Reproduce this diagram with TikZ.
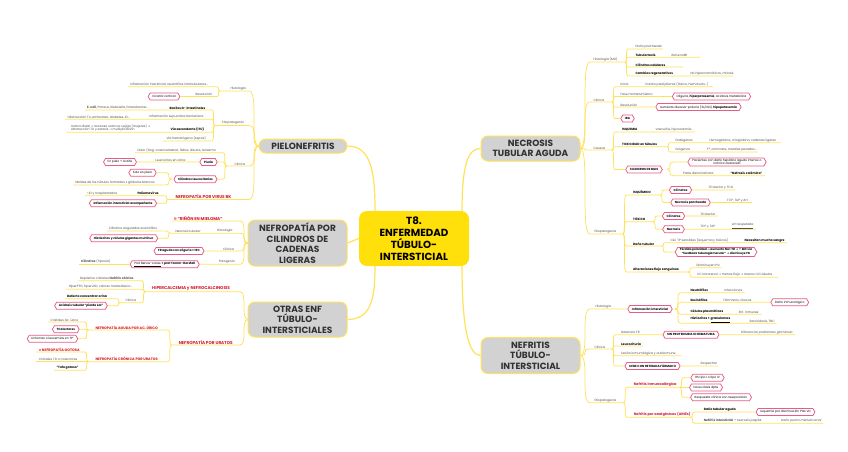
\documentclass[tikz,border=0pt]{standalone}
\usepackage{fontspec}
\setmainfont{Poppins}
\newfontfamily\dejavu{DejaVu Sans}
\usetikzlibrary{shapes.symbols}
\definecolor{ly}{RGB}{255,226,90}
\definecolor{cyel}{RGB}{255,224,10}
\definecolor{ngray}{RGB}{210,210,210}
\definecolor{ntext}{RGB}{50,50,50}
\definecolor{pk}{RGB}{232,92,134}
\definecolor{rtext}{RGB}{212,28,48}
\definecolor{gtext}{RGB}{80,80,80}
\newcommand\ra{{\dejavu →}}
\newcommand\upa{{\dejavu ↑}}
\newcounter{nn}
\newcommand\tx[3]{\stepcounter{nn}\node[txt] (n\thenn) at (#1,#2) {#3};}
\newcommand\bx[3]{\stepcounter{nn}\node[btxt] (n\thenn) at (#1,#2) {#3};}
\newcommand\rx[3]{\stepcounter{nn}\node[rtxt] (n\thenn) at (#1,#2) {#3};}
\newcommand\rsx[3]{\stepcounter{nn}\node[rstxt] (n\thenn) at (#1,#2) {#3};}
\newcommand\ix[3]{\stepcounter{nn}\node[itxt] (n\thenn) at (#1,#2) {#3};}
% link: parent end (x,y), spine x, child y, underline end x
\newcommand\lnk[5]{\draw[conn] (#1,#2) .. controls (#3,#2) and (#1,#4) .. (#3,#4) -- (#5,#4);}
% link into a node
\newcommand\lnh[5]{\draw[conn] (#1,#2) .. controls (#3,#2) and (#1,#4) .. (#3,#4) -- (#5);}
\tikzset{
  conn/.style={draw=ly,line width=0.75pt},
  mconn/.style={draw=ly,line width=1.2pt},
  mainbox/.style={draw=ly,line width=1pt,fill=ngray,rounded corners=7pt,align=center,
     font=\fontsize{9}{10.6}\selectfont\bfseries,text=ntext,inner sep=0pt},
  centerbox/.style={fill=cyel,rounded corners=8pt,align=center,
     font=\fontsize{10.3}{12}\selectfont\bfseries,text=black,inner sep=0pt,
     minimum width=110pt,minimum height=55pt},
  txt/.style={anchor=south west,inner sep=0.3pt,yshift=0.2pt,font=\fontsize{3.1}{3.6}\selectfont,text=gtext},
  btxt/.style={txt,font=\fontsize{3.1}{3.6}\selectfont\bfseries,text=black},
  itxt/.style={txt,font=\fontsize{3.1}{3.6}\selectfont\itshape},
  rtxt/.style={txt,font=\fontsize{4.2}{4.8}\selectfont\bfseries,text=rtext},
  rstxt/.style={txt,font=\fontsize{3.5}{4}\selectfont\bfseries,text=rtext},
  hex/.style={shape=signal,signal to=west and east,signal pointer angle=120,draw=pk,
     line width=0.75pt,fill=white,font=\fontsize{3}{3.6}\selectfont,align=center,
     inner xsep=2.2pt,inner ysep=1.1pt,minimum height=7pt,text=black},
}
\begin{document}
\begin{tikzpicture}[x=1pt,y=-1pt]
\fill[white] (0,0) rectangle (848,451);
\useasboundingbox (0,0) rectangle (848,451);

% ===== main nodes =====
\node[centerbox] (c) at (414,238.5) {T8.\\ENFERMEDAD\\TÚBULO-\\INTERSTICIAL};
\node[mainbox,minimum width=88pt,minimum height=14pt] (pie) at (303,146) {PIELONEFRITIS};
\node[mainbox,minimum width=99pt,minimum height=46pt] (cad) at (297.5,243) {NEFROPATÍA POR\\CILINDROS DE\\CADENAS\\LIGERAS};
\node[mainbox,minimum width=99pt,minimum height=35pt] (otr) at (297.5,319.5) {OTRAS ENF\\TÚBULO-\\INTERSTICIALES};
\node[mainbox,minimum width=99pt,minimum height=25pt] (nec) at (530.5,148.5) {NECROSIS\\TUBULAR AGUDA};
\node[mainbox,minimum width=99pt,minimum height=36pt] (nef) at (530.5,355.5) {NEFRITIS\\TÚBULO-\\INTERSTICIAL};
\coordinate (cTL) at (375,211);
\coordinate (cBL) at (375,266);
\coordinate (cTR) at (462,211);
\coordinate (cBR) at (462,266);
\draw[mconn] (pie.east) .. controls +(24,0) and +(0,-38) .. (cTL);
\draw[mconn] (cad.east) -- (c.west);
\draw[mconn] (otr.east) .. controls +(24,0) and +(0,32) .. (cBL);
\draw[mconn] (cTR) .. controls +(0,-48) and +(-12,0) .. (nec.west);
\draw[mconn] (cBR) .. controls +(0,62) and +(-12,0) .. (nef.west);

% ===== NECROSIS TUBULAR AGUDA =====
\lnk{580}{148.5}{590}{62}{625} \tx{593}{62}{Histología (MO)}
\lnk{625}{62}{628}{49}{663} \tx{635}{49}{Daño parcheado}
\lnk{625}{62}{628}{57.3}{700} \bx{635}{57.3}{Tubulorrexis} \tx{671}{57.3}{Rotura MB}
\lnk{625}{62}{628}{67}{683} \bx{635}{67}{Cilindros celulares}
\lnk{625}{62}{628}{76}{733} \bx{635}{76}{Cambios regenerativos} \tx{690}{76}{No hipercromáticos, mitosis}

\lnk{580}{148.5}{590}{102}{612} \tx{593}{102}{Clínica}
\lnk{612}{102}{615}{86.7}{713} \tx{620}{86.7}{Inicio} \tx{645}{86.7}{Evento precipitante (tóxico, hematuria...)}
\node[hex] (hol) at (711.5,96.5) {Oliguria, \textbf{hiperpotasemia}, acidosis metabólica};
\lnh{612}{102}{615}{96.5}{hol} \tx{620}{96.5}{Fase mantenimiento}
\node[hex] (hre) at (698.5,107) {Aumento diuresis-poliuria (3L/día), \textbf{hipopotasemia}};
\lnh{612}{102}{615}{107}{hre} \tx{620}{107}{Resolución}
\node[hex] (hira) at (627.5,118.5) {\textbf{IRA}};
\lnh{612}{102}{615}{118.5}{hira}

\lnk{580}{148.5}{590}{150}{612} \tx{593}{150}{Causas}
\lnk{612}{150}{615}{132}{695} \bx{621.7}{132}{ISQUEMIA} \tx{655}{132}{Vasculitis, hipovolemia...}
\lnk{612}{150}{615}{146.7}{667} \bx{621.7}{146.7}{TOXICIDAD en túbulos}
\lnk{667}{146.7}{670}{142.7}{780.7} \tx{675}{142.7}{Endógenos} \tx{709}{142.7}{Hemoglobina, mioglobina, cadenas ligeras}
\lnk{667}{146.7}{670}{152}{758} \tx{675}{152}{Exógenos} \tx{706.7}{152}{Fº, contraste, metales pesados...}
\node[hex] (hbil) at (644,169.5) {\textbf{CILINDROS DE BILIS}};
\lnh{612}{150}{615}{169.5}{hbil}
\node[hex] (hpac) at (727,162) {Pacientes con daño hepático agudo intenso o\\crónico avanzado};
\lnh{667}{169.5}{673}{162}{hpac}
\lnk{667}{169.5}{673}{175.7}{765} \tx{682.7}{175.7}{Parte distal nefrona} \bx{730}{175.7}{“Nefrosis colémica”}

\lnk{580}{148.5}{590}{234}{623} \tx{594}{234}{Etiopatogenia}
\lnk{623}{234}{626}{195}{660} \bx{632.7}{195}{ISQUÉMICO}
\node[hex] (hc1) at (680.5,190) {\textbf{Cilindros}};
\lnh{660}{195}{664}{190}{hc1} \draw[conn] (hc1) -- (735,190); \tx{708}{190}{TColector y TCD}
\node[hex] (hn1) at (690.5,202.5) {\textbf{Necrosis parcheada}};
\lnh{660}{195}{664}{202.5}{hn1} \draw[conn] (hn1) -- (752,202.5); \tx{726.7}{202.5}{TCP, TAP y AH}
\lnk{623}{234}{626}{221.7}{653} \bx{632.7}{221.7}{TÓXICO}
\node[hex] (hc2) at (673.5,216) {\textbf{Cilindros}};
\lnh{653}{221.7}{657}{216}{hc2} \draw[conn] (hc2) -- (718,216); \tx{700}{216}{TColector}
\node[hex] (hn2) at (673.5,229.3) {\textbf{Necrosis}};
\lnh{653}{221.7}{657}{229.3}{hn2} \draw[conn] (hn2) -- (755.7,229.3); \tx{700}{229.3}{TCP y TAP} \tx{731.7}{229.3}{\underline{AH respetada}}
\lnk{623}{234}{626}{246}{661.7} \bx{632.7}{246}{Daño tubular}
\lnk{661.7}{246}{665}{242.7}{786.7} \tx{670}{242.7}{Cél. TP sensibles (isquemia y tóxicos)} \bx{744}{242.7}{Necesitan mucha sangre}
\node[hex,font=\fontsize{2.9}{3.7}\selectfont\bfseries] (hpp) at (716,252) {Pérdida polaridad \ra{} aumento Na+ TD \ra{} \upa{} MD vía\\“feedback tubuloglomerular” \ra{} disminuye FG};
\lnh{661.7}{246}{665}{252}{hpp}
\lnk{623}{234}{626}{272}{688} \bx{632.7}{272}{Alteraciones flujo sanguíneo}
\lnk{688}{272}{692}{267.7}{721.7} \tx{696}{267.7}{Disminuyen PG}
\lnk{688}{272}{692}{277.3}{778} \tx{696.7}{277.3}{VC intrarenal \ra{} menos flujo \ra{} menos O2 túbulos}

% ===== NEFRITIS TUBULO-INTERSTICIAL =====
\node[hex] (hii) at (650,309) {\textbf{Inflamación intersticial}};
\lnh{580}{355.5}{590}{309}{hii} \tx{595}{309}{Histología}
\lnk{675}{309}{681}{292.7}{745} \bx{690}{292.7}{Neutrófilos} \tx{724}{292.7}{Infecciones}
\node[hex] (hdi) at (789.7,302.3) {Daño inmunológico};
\lnh{675}{309}{681}{302.3}{hdi} \bx{690}{302.3}{Eosinófilos} \tx{723}{302.3}{Fármacos, tóxicos}
\lnk{675}{309}{681}{314.3}{761.7} \bx{690}{314.3}{Células plasmáticas} \tx{738.3}{314.3}{Enf. inmunes}
\lnk{675}{309}{681}{323.3}{776.7} \bx{690}{323.3}{Histiocitos + \underline{granulomas}} \tx{749}{323.3}{Sarcoidosis, TBC}

\lnk{580}{355.5}{590}{349}{612} \tx{594}{349}{Clínica}
\node[hex] (hsin) at (691,334.7) {\textbf{SIN PROTEINURIA NI HEMATURIA}};
\lnh{612}{349}{615}{334.7}{hsin} \tx{620.7}{334.7}{Deterioro FR}
\draw[conn] (hsin) -- (795,334.7); \ix{740.7}{334.7}{Diferenciar problemas glomérulo}
\lnk{612}{349}{615}{346}{643} \bx{620.7}{346}{Leucocituria}
\lnk{612}{349}{615}{355.7}{681.7} \tx{620.7}{355.7}{Lesión inmunológica y autoinmune}
\node[hex] (hce) at (652.5,366) {\textbf{CEDE CON RETIRADA FÁRMACO}};
\lnh{612}{349}{615}{366}{hce} \draw[conn] (hce) -- (718.3,366); \tx{700}{366}{Sospechar}

\lnk{580}{355.5}{590}{402.7}{623.3} \tx{594}{402.7}{Etiopatogenia}
\lnk{623.3}{402.7}{627}{387.3}{680} \rsx{633.3}{387.3}{Nefritis inmunoalérgica}
\node[hex] (hhs) at (707.5,377.7) {HS tipo I o tipo IV};
\lnh{680}{387.3}{683}{377.7}{hhs}
\node[hex] (hno) at (706,387.5) {No es dosis dpte};
\lnh{680}{387.3}{683}{387.5}{hno}
\node[hex] (hrc) at (721,397.3) {Respuesta clínica con reexposición};
\lnh{680}{387.3}{683}{397.3}{hrc}
\lnk{623.3}{402.7}{627}{417.3}{690} \rsx{633.3}{417.3}{Nefritis por analgésicos (AINEs)}
\node[hex] (hiq) at (785.5,412) {Isquemia por disminución PGs VD};
\lnh{690}{417.3}{695}{412}{hiq} \bx{703.3}{412}{Daño tubular agudo}
\lnk{690}{417.3}{695}{423.3}{823.3} \tx{703.3}{423.3}{\textbf{Nefritis intersticial} + necrosis papilar} \ix{780.7}{423.3}{Daño punta médula renal}

% ===== PIELONEFRITIS =====
\lnk{259}{146}{249}{91}{220} \tx{230}{91}{Histología}
\lnk{220}{91}{217}{86.7}{128} \tx{130}{86.7}{Inflamación intersticial, neutrófilos intratubulares...}
\node[hex] (hcic) at (164,96.5) {Cicatriz cortical};
\lnh{220}{91}{217}{96.5}{hcic} \tx{195}{96.5}{Resolución}

\lnk{259}{146}{249}{125.5}{215} \tx{221.7}{125.5}{Etiopatogenia}
\lnk{215}{125.5}{212}{110}{85} \bx{169}{110}{Bacilos G- intestinales} \tx{86.7}{110}{\textbf{E. coli}, Proteus, Klebsiella, Enterobacter...}
\lnk{215}{125.5}{212}{119.3}{65} \tx{149}{119.3}{Inflamación supurativa bacteriana} \tx{67}{119.3}{Obstrucción TU, embarazo, diabetes, ID...}
\lnk{215}{125.5}{212}{132.3}{66.7} \bx{170}{132.3}{Vía ascendente (ITU)}
\stepcounter{nn}\node[txt,align=left] (n\thenn) at (70.7,132.3) {Uretra distal \ra{} ascenso uretra a vejiga (mujeres) \ra{}\\obstrucción TU y estasis \ra{} multiplicación};
\lnk{215}{125.5}{212}{141}{163} \tx{166}{141}{Vía hematógena (sepsis)}

\lnk{259}{146}{249}{166}{226.7} \tx{234}{166}{Clínica}
\lnk{226.7}{166}{223}{152.7}{135} \tx{137}{152.7}{Dolor (áng. costovertebral, fiebre, disuria, tenesmo}
\node[hex] (hpi) at (208.5,162) {\textbf{Piuria}};
\lnh{226.7}{166}{223}{162}{hpi}
\node[hex] (hepc) at (120,162) {En pielo + cistitis};
\draw[conn] (hpi) -- (hepc); \tx{155}{162}{Leucocitos en orina}
\node[hex] (hcl) at (195.5,179.2) {\textbf{Cilindros leucocitarios}};
\lnh{226.7}{166}{223}{179.2}{hcl}
\node[hex] (hsp) at (142.5,172.7) {Solo en pielo};
\lnh{171.7}{179.2}{166}{172.7}{hsp}
\lnk{171.7}{179.2}{166}{185}{73.3} \tx{75}{185}{Moldes de los túbulos formados x glóbulos blancos}

\lnk{259}{146}{249}{199.5}{168.3} \rx{175}{199.5}{NEFROPATÍA POR VIRUS BK}
\lnk{168.3}{199.5}{165}{195.7}{85} \bx{137}{195.7}{Poliomavirus} \tx{86.7}{195.7}{<ID y trasplantados}
\node[hex] (hbk) at (123,203.3) {\textbf{Inflamación intersticial acompañante}};
\lnh{168.3}{199.5}{165}{203.3}{hbk}

% ===== CADENAS LIGERAS =====
\lnk{248}{243}{240}{221}{171.7} \rx{173.3}{221}{= “RIÑÓN EN MIELOMA”}
\lnk{248}{243}{240}{233.3}{170} \tx{216.7}{233.3}{Histología} \tx{175}{233.3}{Necrosis tubular}
\lnk{170}{233.3}{167}{231}{106.7} \tx{108.3}{231}{Cilindros angulados eosinófilos}
\node[hex] (hhi) at (123.7,238.3) {\textbf{Histiocitos y células gigantes multinuc}};
\lnh{170}{233.3}{167}{238.3}{hhi}
\node[hex] (hfr) at (179,251) {\textbf{FR aguda con oliguria + IRC}};
\lnh{248}{243}{240}{251}{hfr} \tx{222.7}{251}{Clínica}
\node[hex] (hbj) at (164.7,264.3) {\underline{Prot Bence-Jones} \textbf{+ prot Tamm-Horsfall}};
\lnh{248}{243}{240}{264.3}{hbj} \tx{218.3}{264.3}{Patogenia}
\draw[conn] (hbj) -- (79.3,264.3); \tx{80.7}{264.3}{\textbf{Cilindros} (hipoxia)}

% ===== OTRAS ENF =====
\lnk{248}{319.5}{240}{291.7}{145} \rx{151.7}{291.7}{HIPERCALCEMIA y NEFROCALCINOSIS}
\lnk{145}{291.7}{142}{280.7}{78.3} \tx{79.3}{280.7}{Depósitos cristales \textbf{Nefritis cálcica}}
\lnk{145}{291.7}{142}{289.3}{66} \tx{68.3}{289.3}{HiperPTH, hipervitD, cáncer metastásico...}
\lnk{145}{291.7}{142}{302.7}{120} \tx{125}{302.7}{Clínica}
\lnk{120}{302.7}{117}{298.7}{65} \bx{66.7}{298.7}{Defecto concentrar orina}
\node[hex] (hac) at (81,305.7) {\textbf{Acidosis tubular “pierde sal”}};
\lnh{120}{302.7}{117}{305.7}{hac}

\lnk{248}{319.5}{240}{345}{171.7} \rx{178.3}{345}{NEFROPATÍA POR URATOS}
\lnk{171.7}{345}{168}{330}{88.3} \rsx{95}{330}{NEFROPATÍA AGUDA POR AC. ÚRICO}
\lnk{88.3}{330}{85}{322}{48} \tx{50}{322}{Cristales ác. úrico}
\node[hex] (htc) at (65.8,329.3) {\textbf{TColectores}};
\lnh{88.3}{330}{85}{329.3}{htc}
\node[hex] (hli) at (52.5,338.7) {Linfomas o leucemias en Ttº};
\lnh{88.3}{330}{85}{338.7}{hli}
\lnk{171.7}{345}{168}{361.7}{88.3} \rsx{95}{361.7}{NEFROPATÍA CRÓNICA POR URATOS}
\lnk{88.3}{361.7}{85}{352}{36} \rsx{38.3}{352}{= NEFROPATÍA GOTOSA}
\lnk{88.3}{361.7}{85}{361.7}{36} \tx{38.3}{361.7}{Cristales TD o Colectores}
\lnk{88.3}{361.7}{85}{370.3}{54} \bx{56}{370.3}{“Tofo gotoso”}
\end{tikzpicture}
\end{document}
